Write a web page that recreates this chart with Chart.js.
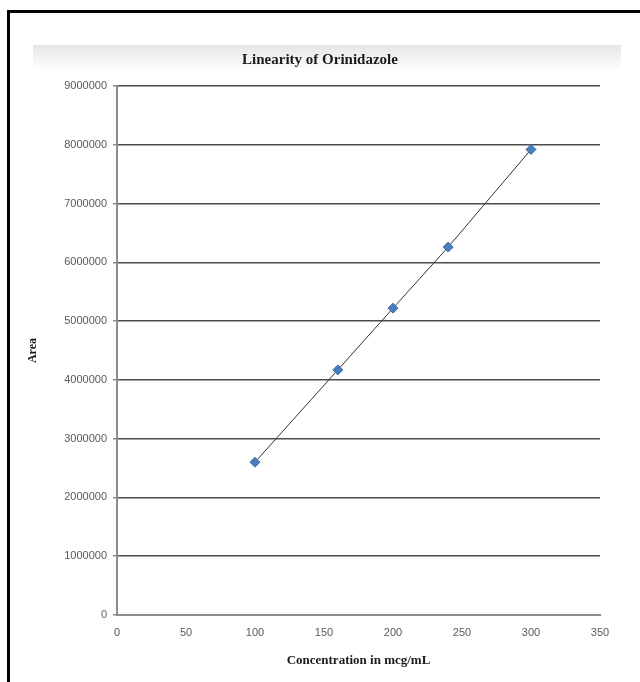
<!DOCTYPE html>
<html>
<head>
<meta charset="utf-8">
<script src="https://cdn.jsdelivr.net/npm/chart.js@4/dist/chart.umd.min.js"></script>
<style>
  html, body { margin: 0; padding: 0; background: #fff; }
  #wrap { position: relative; width: 640px; height: 682px; overflow: hidden; }
  #frame { position: absolute; left: 7px; top: 10px; width: 700px; height: 700px;
           border-left: 3px solid #000; border-top: 3px solid #000; }
  #band { position: absolute; left: 33px; top: 45px; width: 588px; height: 26px;
          background: linear-gradient(#e6e6e6, #ffffff); }
  #chart { position: absolute; left: 0; top: 0; }
</style>
</head>
<body>
<div id="wrap">
  <div id="frame"></div>
  <div id="band"></div>
  <canvas id="chart" width="640" height="682"></canvas>
</div>
<script>
const concentrations = [100, 160, 200, 240, 300];
const areas = [2600000, 4170000, 5220000, 6260000, 7920000];
const xTicks = [0, 50, 100, 150, 200, 250, 300, 350];
const yTicks = [0, 1000000, 2000000, 3000000, 4000000, 5000000, 6000000, 7000000, 8000000, 9000000];

const points = concentrations.map((c, i) => ({ x: c, y: areas[i] }));

const ctx = document.getElementById('chart').getContext('2d');

new Chart(ctx, {
    type: 'scatter',
    data: {
        datasets: [
            {
                label: 'Area',
                data: points,
                showLine: true,
                borderColor: '#333333',
                borderWidth: 1,
                pointStyle: 'rectRot',
                pointRadius: 5,
                pointBackgroundColor: '#4a7ebb',
                pointBorderColor: '#3d6ca8',
                pointBorderWidth: 1
            }
        ]
    },
    options: {
        responsive: false,
        animation: false,
        events: [],
        layout: {
            padding: { left: 40, right: 40, top: 0, bottom: 0 } // keeps the title centred at x=320
        },
        plugins: {
            legend: { display: false },
            tooltip: { enabled: false },
            title: {
                display: true,
                text: 'Linearity of Orinidazole',
                color: '#1a1a1a',
                font: { family: '"Liberation Serif", "Times New Roman", serif', size: 15, weight: 'bold' },
                padding: { top: 51, bottom: 17 }
            }
        },
        scales: {
            x: {
                type: 'linear',
                min: 0,
                max: 350,
                afterBuildTicks: scale => { scale.ticks = xTicks.map(v => ({ value: v })); },
                grid: { display: false, drawTicks: false },
                border: { display: true, color: '#8c8c8c', width: 2 },
                ticks: {
                    color: '#595959',
                    font: { family: '"Liberation Sans", Arial, sans-serif', size: 11 },
                    padding: 11
                },
                title: {
                    display: true,
                    text: 'Concentration in mcg/mL',
                    color: '#1a1a1a',
                    font: { family: '"Liberation Serif", "Times New Roman", serif', size: 13, weight: 'bold' },
                    padding: { top: 14, bottom: 14 }
                },
                afterFit: scale => { scale.height = 67; }
            },
            y: {
                type: 'linear',
                min: 0,
                max: 9000000,
                afterBuildTicks: scale => { scale.ticks = yTicks.map(v => ({ value: v })); },
                grid: {
                    color: ctx => ctx.tick && ctx.tick.value === 0 ? 'rgba(0,0,0,0)' : '#4d4d4d',
                    lineWidth: 1.5,
                    tickLength: 4,
                    tickColor: '#8c8c8c'
                },
                border: { display: true, color: '#8c8c8c', width: 2 },
                ticks: {
                    color: '#595959',
                    font: { family: '"Liberation Sans", Arial, sans-serif', size: 11 },
                    padding: 6,
                    callback: v => String(v)
                },
                title: {
                    display: true,
                    text: 'Area',
                    color: '#1a1a1a',
                    font: { family: '"Liberation Serif", "Times New Roman", serif', size: 12, weight: 'bold' },
                    padding: { top: -14, bottom: -14 } // pull the title left, outside the padded box
                },
                afterFit: scale => { scale.width = 77; }
            }
        }
    }
});
</script>
</body>
</html>
